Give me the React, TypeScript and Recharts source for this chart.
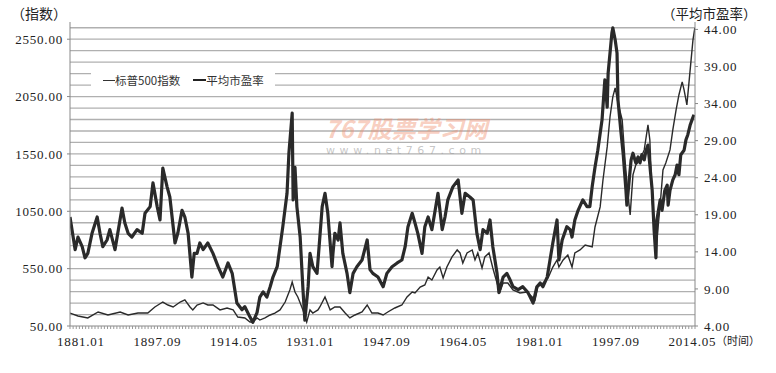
import React from "react";
import { ComposedChart, Line, XAxis, YAxis, CartesianGrid } from "recharts";

// 标普500指数 (left axis) — time positions and values
const spYears = [
  1881.0, 1882.7, 1884.8, 1887.0, 1889.1, 1891.7, 1893.4, 1895.5, 1897.6, 1899.1,
  1900.8, 1901.9, 1903.0, 1904.5, 1905.5, 1906.6, 1907.2, 1908.1, 1909.4, 1910.4,
  1911.5, 1913.0, 1914.5, 1915.8, 1916.8, 1918.3, 1919.4, 1920.0, 1920.9, 1921.5,
  1922.6, 1923.7, 1924.7, 1925.8, 1926.9, 1927.9, 1928.4, 1929.0, 1929.6, 1930.7,
  1931.5, 1932.2, 1932.8, 1933.9, 1934.3, 1935.4, 1936.5, 1937.5, 1938.6, 1939.7,
  1940.7, 1941.8, 1943.3, 1944.4, 1945.4, 1946.7, 1947.8, 1948.8, 1950.3, 1951.8,
  1952.9, 1954.0, 1954.6, 1955.7, 1956.7, 1957.4, 1958.2, 1959.3, 1959.9, 1960.6,
  1961.4, 1962.5, 1963.6, 1964.2, 1964.8, 1965.7, 1966.8, 1967.4, 1968.0, 1968.9,
  1969.5, 1970.4, 1971.2, 1972.1, 1972.7, 1973.4, 1974.4, 1975.5, 1977.0, 1978.5,
  1979.6, 1980.2, 1980.8, 1981.9, 1983.0, 1984.0, 1984.9, 1985.3, 1986.2, 1987.2,
  1988.1, 1988.7, 1989.8, 1990.9, 1992.4, 1993.0, 1994.1, 1994.7, 1995.6, 1996.2,
  1996.8, 1997.3, 1997.9, 1998.8, 1999.4, 2000.0, 2000.5, 2001.1, 2001.7, 2002.6,
  2003.5, 2004.3, 2004.7, 2005.2, 2005.8, 2006.2, 2006.9, 2007.5, 2008.1, 2009.0,
  2009.6, 2010.3, 2010.9, 2011.6, 2012.0, 2012.6, 2013.1, 2013.5, 2013.9, 2014.3,
];
const spValues = [
  163, 137, 120, 172, 146, 172, 146, 163, 163, 216,
  259, 233, 216, 259, 277, 216, 190, 233, 251, 233,
  233, 190, 207, 190, 128, 120, 85, 85, 120, 102,
  120, 146, 163, 190, 259, 364, 434, 346, 303, 190,
  85, 190, 163, 190, 216, 303, 190, 216, 216, 163,
  120, 146, 172, 233, 163, 163, 146, 172, 207, 233,
  303, 346, 338, 390, 408, 477, 451, 538, 564, 469,
  564, 652, 713, 687, 599, 687, 713, 626, 687, 556,
  652, 687, 556, 425, 346, 425, 425, 364, 338, 346,
  303, 277, 390, 425, 469, 564, 626, 564, 626, 669,
  564, 687, 713, 756, 739, 913, 1088, 1323, 1611, 1872,
  2047, 2125, 1995, 1846, 1498, 1210, 1018, 1367, 1454, 1498,
  1585, 1803, 1672, 1149, 843, 800, 1105, 1410, 1471, 1585,
  1759, 1934, 2064, 2178, 2108, 1977, 2195, 2370, 2544, 2649,
];

// 平均市盈率 (right axis)
const peYears = [
  1881.0, 1882.1, 1882.7, 1883.6, 1884.2, 1884.8, 1885.7, 1886.8, 1887.4, 1888.0,
  1888.9, 1889.5, 1890.6, 1892.1, 1892.7, 1893.4, 1894.2, 1895.3, 1896.4, 1897.0,
  1898.1, 1898.7, 1899.6, 1900.2, 1900.8, 1901.7, 1902.3, 1903.4, 1904.0, 1904.9,
  1905.5, 1906.2, 1907.0, 1907.5, 1908.1, 1908.7, 1909.4, 1910.4, 1911.5, 1912.6,
  1913.6, 1914.7, 1915.6, 1916.6, 1917.7, 1918.3, 1919.4, 1920.0, 1920.9, 1921.5,
  1922.2, 1923.0, 1923.7, 1924.3, 1925.2, 1925.8, 1926.4, 1927.3, 1927.7, 1928.4,
  1928.6, 1929.0, 1929.4, 1930.1, 1930.7, 1931.1, 1931.8, 1932.2, 1932.8, 1933.7,
  1934.3, 1934.8, 1935.4, 1936.0, 1936.9, 1937.1, 1937.5, 1938.2, 1938.6, 1939.2,
  1940.1, 1940.7, 1941.4, 1942.2, 1943.3, 1944.4, 1945.0, 1945.6, 1946.7, 1947.8,
  1948.6, 1949.7, 1950.8, 1951.8, 1952.5, 1953.1, 1954.0, 1954.6, 1955.2, 1956.1,
  1956.7, 1957.4, 1958.2, 1958.9, 1959.5, 1960.4, 1961.0, 1961.6, 1962.7, 1963.8,
  1964.6, 1965.3, 1966.3, 1967.0, 1967.8, 1968.5, 1969.1, 1970.0, 1970.6, 1971.2,
  1972.1, 1972.5, 1973.4, 1974.2, 1974.9, 1975.5, 1976.6, 1977.6, 1978.7, 1979.8,
  1980.6, 1981.3, 1981.9, 1982.8, 1983.4, 1984.0, 1984.9, 1985.3, 1986.0, 1987.0,
  1987.7, 1988.1, 1988.7, 1989.4, 1990.4, 1991.3, 1991.9, 1992.4, 1993.0, 1993.6,
  1994.5, 1995.1, 1995.6, 1995.8, 1996.6, 1996.8, 1997.3, 1997.7, 1997.9, 1998.5,
  1999.0, 1999.6, 1999.8, 2000.3, 2000.7, 2001.1, 2001.7, 2002.2, 2002.6, 2003.0,
  2003.5, 2003.9, 2004.3, 2004.7, 2005.2, 2005.6, 2006.0, 2006.2, 2006.9, 2007.3,
  2007.9, 2008.4, 2008.6, 2009.0, 2009.6, 2010.1, 2010.5, 2010.9, 2011.3, 2012.0,
  2012.4, 2012.8, 2013.3, 2013.7, 2014.1,
];
const peValues = [
  18.7, 14.3, 16.0, 14.7, 13.2, 13.8, 16.5, 18.7, 16.5, 14.7,
  15.6, 17.0, 14.3, 19.9, 17.9, 16.5, 16.0, 17.0, 16.5, 19.2,
  20.1, 23.3, 20.1, 18.3, 25.3, 22.8, 21.4, 15.2, 16.5, 19.6,
  18.7, 16.5, 10.6, 13.8, 13.8, 15.2, 14.3, 15.2, 13.8, 12.0,
  10.6, 12.5, 11.1, 7.1, 6.2, 6.6, 5.2, 4.5, 5.8, 7.9,
  8.6, 7.9, 9.3, 10.6, 12.0, 14.7, 17.4, 21.9, 27.3, 32.7,
  21.0, 25.4, 20.1, 16.0, 8.9, 4.8, 9.3, 13.8, 12.0, 11.1,
  16.0, 20.1, 21.9, 19.2, 12.0, 13.8, 16.5, 15.6, 17.9, 13.8,
  11.1, 8.5, 11.1, 12.0, 12.9, 15.6, 11.6, 11.1, 10.6, 9.3,
  11.1, 12.0, 12.5, 12.9, 14.7, 17.4, 19.2, 17.9, 16.5, 13.8,
  17.4, 18.7, 17.0, 19.6, 21.9, 17.0, 18.7, 21.0, 22.8, 23.7,
  19.2, 21.9, 21.4, 21.0, 16.5, 14.3, 17.0, 16.5, 18.3, 14.7,
  11.1, 8.5, 10.6, 11.1, 10.2, 9.3, 8.9, 9.3, 8.5, 7.1,
  9.3, 9.8, 9.3, 10.6, 12.9, 15.2, 18.3, 12.9, 15.6, 17.4,
  17.0, 16.0, 18.3, 19.6, 21.0, 20.1, 20.1, 22.8, 25.4, 27.7,
  31.8, 37.2, 33.5, 38.1, 43.5, 44.2, 42.6, 40.8, 34.5, 30.4,
  27.3, 22.3, 20.3, 23.7, 26.4, 27.3, 26.0, 26.8, 26.0, 27.1,
  26.4, 27.7, 28.4, 25.7, 22.3, 17.0, 13.2, 18.3, 21.0, 19.6,
  22.3, 23.0, 20.3, 22.3, 23.7, 24.4, 25.7, 24.4, 27.1, 27.7,
  29.1, 29.8, 31.1, 31.8, 32.5,
];

const tickLabels = [
  "1881.01", "1897.09", "1914.05", "1931.01", "1947.09",
  "1964.05", "1981.01", "1997.09", "2014.05",
];
const leftTicks = [50, 550, 1050, 1550, 2050, 2550];
const rightTicks = [4, 9, 14, 19, 24, 29, 34, 39, 44];
const leftDomain = [50, 2700];

const spData = spYears.map((t, i) => ({ t, v: spValues[i] }));
const peData = peYears.map((t, i) => ({ t, v: peValues[i] }));

// horizontal grid every 100 on the left scale, small tick marks every 8 months
const gridValues: number[] = [];
for (let g = 150; g <= 2650; g += 100) gridValues.push(g);
const minorTicks: number[] = [];
for (let k = 0; k <= 200; k++) minorTicks.push(1881 + (k * 2) / 3);

const numFont = "'Liberation Serif', 'DejaVu Serif', serif";
const cjkFont = "'Noto Sans CJK SC', 'Noto Sans', sans-serif";

const XTick = (props: any) => {
  const { x, y, index } = props;
  if (index % 25 !== 0) return <g />;
  const i = index / 25;
  return (
    <text
      x={x + 11 - 1.7 * i}
      y={y}
      dy="0.71em"
      textAnchor="middle"
      fontFamily={numFont}
      fontSize={13}
      letterSpacing={0.8}
      fill="#222"
    >
      {tickLabels[i]}
    </text>
  );
};

// grid lines placed on the left axis scale
const gridCoords = ({ offset }: any) =>
  gridValues.map(
    (g) =>
      offset.top +
      offset.height * (1 - (g - leftDomain[0]) / (leftDomain[1] - leftDomain[0]))
  );

export default function App() {
  return (
    <div
      style={{
        position: "absolute",
        left: 0,
        top: 0,
        width: 776,
        height: 373,
        background: "#fff",
        overflow: "hidden",
      }}
    >
      <ComposedChart
        width={776}
        height={373}
        margin={{ top: 22, right: 21, bottom: 17, left: 10 }}
      >
        <CartesianGrid
          vertical={false}
          stroke="#b0b0b0"
          strokeWidth={1.3}
          horizontalCoordinatesGenerator={gridCoords}
        />
        <XAxis
          dataKey="t"
          type="number"
          domain={[1881, 2014.333]}
          ticks={minorTicks}
          interval={0}
          allowDataOverflow
          height={30}
          tickSize={3}
          tickMargin={8}
          axisLine={{ stroke: "#888" }}
          tickLine={{ stroke: "#999" }}
          tick={<XTick />}
        />
        <YAxis
          yAxisId="left"
          domain={leftDomain}
          ticks={leftTicks}
          allowDataOverflow
          width={60}
          tickSize={3}
          tickMargin={4}
          axisLine={{ stroke: "#888" }}
          tickLine={{ stroke: "#888" }}
          tickFormatter={(v: number) => v.toFixed(2)}
          tick={{ fontFamily: numFont, fontSize: 13, fill: "#222", letterSpacing: 0.8 }}
        />
        <YAxis
          yAxisId="right"
          orientation="right"
          domain={[4, 45]}
          ticks={rightTicks}
          allowDataOverflow
          width={60}
          tickSize={3}
          tickMargin={6}
          axisLine={{ stroke: "#888" }}
          tickLine={{ stroke: "#888" }}
          tickFormatter={(v: number) => v.toFixed(2)}
          tick={{ fontFamily: numFont, fontSize: 13, fill: "#222", letterSpacing: 0.8 }}
        />
        <Line
          yAxisId="left"
          data={spData}
          dataKey="v"
          name="标普500指数"
          type="linear"
          stroke="#2a2a2a"
          strokeWidth={1.4}
          dot={false}
          isAnimationActive={false}
        />
        <Line
          yAxisId="right"
          data={peData}
          dataKey="v"
          name="平均市盈率"
          type="linear"
          stroke="#2a2a2a"
          strokeWidth={3.2}
          strokeLinejoin="round"
          dot={false}
          isAnimationActive={false}
        />
      </ComposedChart>

      {/* axis titles */}
      <div style={{ position: "absolute", left: 11, top: 5, fontFamily: cjkFont, fontSize: 14, lineHeight: "16px", color: "#222" }}>
        （指数）
      </div>
      <div style={{ position: "absolute", left: 662, top: 5, fontFamily: cjkFont, fontSize: 13.5, lineHeight: "16px", color: "#222" }}>
        （平均市盈率）
      </div>
      <div style={{ position: "absolute", left: 716, top: 333, fontFamily: cjkFont, fontSize: 11, lineHeight: "14px", color: "#222" }}>
        （时间）
      </div>

      {/* legend */}
      <div
        style={{
          position: "absolute",
          left: 91,
          top: 68,
          width: 184,
          height: 24,
          background: "#fff",
          display: "flex",
          alignItems: "center",
          fontFamily: cjkFont,
          fontSize: 11.5,
          color: "#333",
        }}
      >
        <span style={{ display: "inline-block", width: 12, height: 1, background: "#333", marginLeft: 12 }} />
        <span>标普500指数</span>
        <span style={{ display: "inline-block", width: 13, height: 2.5, background: "#222", marginLeft: 13 }} />
        <span>平均市盈率</span>
      </div>

      {/* watermark */}
      <div
        style={{
          position: "absolute",
          left: 325,
          top: 115,
          fontFamily: cjkFont,
          fontSize: 24,
          fontWeight: 700,
          fontStyle: "italic",
          lineHeight: "25px",
          color: "rgba(240, 140, 105, 0.42)",
          whiteSpace: "nowrap",
        }}
      >
        767股票学习网
      </div>
      <div
        style={{
          position: "absolute",
          left: 326,
          top: 144,
          fontFamily: "'DejaVu Sans', sans-serif",
          fontSize: 11,
          letterSpacing: 4.6,
          lineHeight: "13px",
          color: "rgba(150, 150, 150, 0.55)",
          whiteSpace: "nowrap",
        }}
      >
        www.net767.com
      </div>
    </div>
  );
}
